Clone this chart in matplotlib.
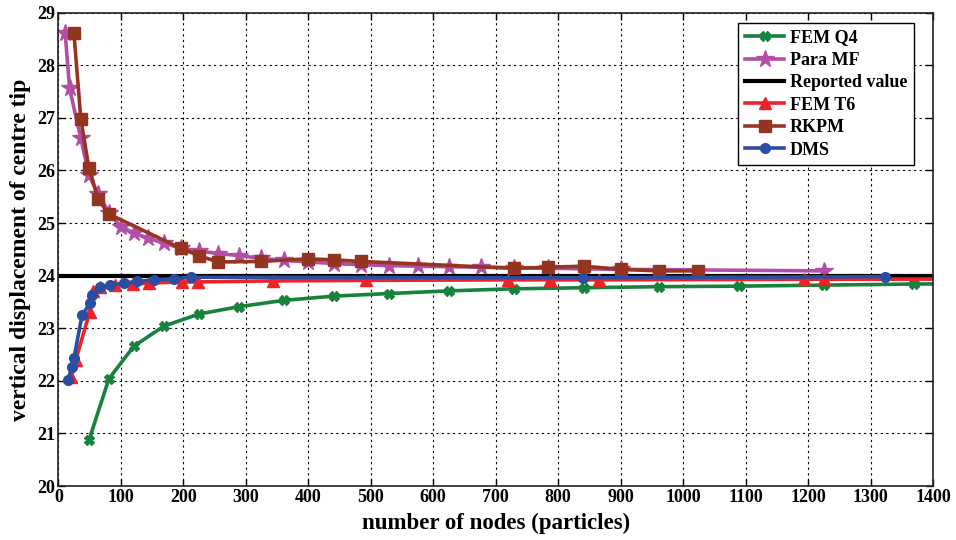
import matplotlib
matplotlib.use('Agg')
import matplotlib.pyplot as plt

# ---- data ----
q4_nodes = [49, 81, 121, 169, 225, 289, 361, 441, 529, 625, 729, 841, 961, 1089, 1225, 1369, 1521]
q4_disp = [20.87, 22.04, 22.66, 23.04, 23.27, 23.41, 23.53, 23.61, 23.66, 23.71, 23.75, 23.77, 23.79, 23.80, 23.82, 23.84, 23.85]

mf_nodes = [11, 18, 36, 49, 64, 81, 100, 121, 144, 169, 196, 225, 256, 289, 324, 361,
            400, 441, 484, 529, 576, 625, 676, 729, 784, 841, 900, 1225]
mf_disp = [28.61, 27.56, 26.61, 25.91, 25.55, 25.20, 24.93, 24.81, 24.71, 24.62, 24.52, 24.47,
           24.42, 24.38, 24.33, 24.29, 24.26, 24.23, 24.21, 24.19, 24.18, 24.17, 24.16, 24.15,
           24.14, 24.13, 24.12, 24.09]

reported_x = [0, 1400]
reported_val = [24.0, 24.0]

t6_nodes = [21, 28, 50, 55, 66, 91, 120, 145, 198, 223, 344, 493, 719, 787, 866, 1194, 1226, 1600]
t6_disp = [22.08, 22.40, 23.30, 23.70, 23.78, 23.82, 23.84, 23.86, 23.88, 23.88, 23.90, 23.91,
           23.92, 23.92, 23.92, 23.93, 23.93, 23.94]

rkpm_nodes = [25, 36, 49, 64, 81, 196, 225, 256, 324, 400, 441, 484, 729, 784, 841, 900, 961, 1024]
rkpm_disp = [28.61, 26.98, 26.04, 25.45, 25.17, 24.52, 24.38, 24.26, 24.27, 24.32, 24.30, 24.27,
             24.14, 24.16, 24.18, 24.12, 24.09, 24.09]

dms_nodes = [15, 22, 25, 38, 51, 54, 67, 83, 105, 126, 153, 185, 212, 840, 1323]
dms_disp = [22.01, 22.27, 22.43, 23.25, 23.48, 23.63, 23.79, 23.82, 23.86, 23.89, 23.92, 23.94,
            23.97, 23.96, 23.98]

xticks = list(range(0, 1401, 100))
yticks = list(range(20, 30))

plt.rcParams['font.family'] = ['Liberation Serif', 'DejaVu Serif']
plt.rcParams['font.weight'] = 'bold'

fig = plt.figure(figsize=(9.56, 5.4), dpi=100)
ax = fig.add_axes([0.061, 0.10, 0.915, 0.8765])

lw = 2.6
ax.plot(q4_nodes, q4_disp, color='#17823b', lw=lw, marker='X', ms=7, label='FEM Q4')
ax.plot(mf_nodes, mf_disp, color='#b24ea6', lw=lw, marker='*', ms=13, label='Para MF')
ax.plot(reported_x, reported_val, color='black', lw=3, label='Reported value')
ax.plot(t6_nodes, t6_disp, color='#ee2227', lw=lw, marker='^', ms=8, label='FEM T6')
ax.plot(rkpm_nodes, rkpm_disp, color='#943522', lw=lw, marker='s', ms=8, label='RKPM')
ax.plot(dms_nodes, dms_disp, color='#2b4ea3', lw=lw, marker='o', ms=7, label='DMS')

ax.set_xlim(0, 1400)
ax.set_ylim(20, 29)
ax.set_xticks(xticks)
ax.set_yticks(yticks)
ax.tick_params(direction='in', top=True, right=True, labelsize=13, width=1, length=5, pad=2)
for lab in ax.get_xticklabels() + ax.get_yticklabels():
    lab.set_fontweight('bold')

ax.grid(True, color='black', linestyle=(0, (2, 3)), lw=0.8)
for sp in ax.spines.values():
    sp.set_linewidth(1.2)
    sp.set_color('#222222')

ax.set_xlabel('number of nodes (particles)', fontsize=16.5, fontweight='bold', labelpad=5)
ax.set_ylabel('vertical displacement of centre tip', fontsize=17, fontweight='bold', labelpad=5)

leg = ax.legend(loc='upper right', bbox_to_anchor=(0.988, 0.997), fontsize=13, frameon=True,
                fancybox=False, edgecolor='black', framealpha=1, borderpad=0.35,
                labelspacing=0.3, handlelength=2.2, handletextpad=0.3)
leg.get_frame().set_linewidth(1.0)
for t in leg.get_texts():
    t.set_fontweight('bold')

fig.savefig('out.png', dpi=100)
